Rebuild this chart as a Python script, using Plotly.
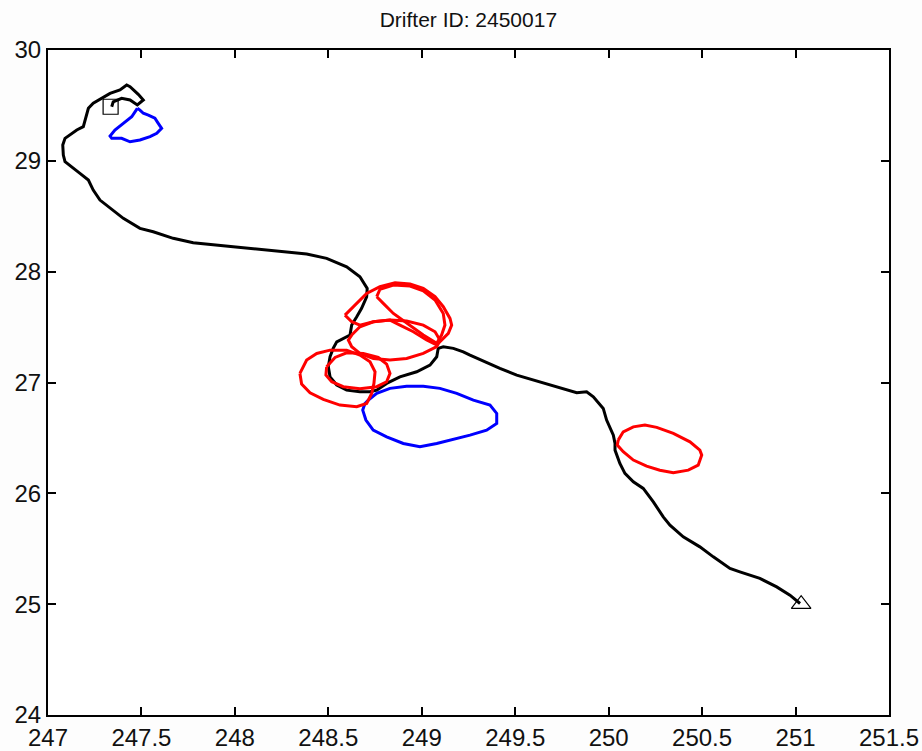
import plotly.graph_objects as go

# Drifter track (longitude east, latitude north), start -> end
track_lon = [247.341, 247.349, 247.394, 247.439, 247.478, 247.510, 247.483, 247.439, 247.421,
             247.385, 247.332, 247.287, 247.242, 247.216, 247.203, 247.189, 247.154, 247.127,
             247.091, 247.079, 247.082, 247.091, 247.127, 247.171, 247.216, 247.242, 247.278,
             247.332, 247.403, 247.492, 247.563, 247.670, 247.777, 247.991, 248.170, 248.384,
             248.491, 248.598, 248.669, 248.705, 248.708, 248.705, 248.678, 248.652, 248.625,
             248.616, 248.580, 248.545, 248.526, 248.509, 248.500, 248.509, 248.545, 248.598,
             248.669, 248.723, 248.759, 248.812, 248.883, 248.973, 249.044, 249.080, 249.088,
             249.115, 249.169, 249.222, 249.258, 249.418, 249.508, 249.597, 249.686, 249.775,
             249.829, 249.882, 249.918, 249.971, 249.989, 250.025, 250.034, 250.034, 250.060,
             250.087, 250.132, 250.185, 250.239, 250.292, 250.328, 250.399, 250.488, 250.560,
             250.649, 250.702, 250.809, 250.899, 250.970, 251.024]
track_lat = [29.488, 29.533, 29.564, 29.549, 29.504, 29.549, 29.600, 29.669, 29.684,
             29.639, 29.609, 29.564, 29.519, 29.474, 29.384, 29.308, 29.278, 29.248,
             29.203, 29.143, 29.052, 28.992, 28.947, 28.887, 28.827, 28.736, 28.646,
             28.571, 28.481, 28.391, 28.360, 28.301, 28.261, 28.225, 28.195, 28.159,
             28.120, 28.044, 27.954, 27.864, 27.849, 27.773, 27.669, 27.593, 27.518,
             27.428, 27.398, 27.367, 27.308, 27.232, 27.142, 27.051, 26.977, 26.931,
             26.916, 26.916, 26.931, 26.992, 27.051, 27.097, 27.157, 27.232, 27.308,
             27.322, 27.308, 27.277, 27.247, 27.127, 27.067, 27.022, 26.977, 26.931,
             26.907, 26.916, 26.871, 26.766, 26.661, 26.525, 26.450, 26.390, 26.270,
             26.180, 26.104, 26.044, 25.923, 25.788, 25.713, 25.607, 25.517, 25.427,
             25.322, 25.292, 25.232, 25.156, 25.081, 25.006]

# Start and end positions
start_lon, start_lat = [247.335], [29.488]
end_lon, end_lat = [251.03], [25.0]

# Anticyclonic eddy contours (red), one closed loop each
red_loops = [
    ([248.589, 248.705, 248.776, 248.857, 248.937, 249.008, 249.071, 249.115, 249.151, 249.160,
      249.142, 249.097, 249.080, 249.026, 248.955, 248.883, 248.830, 248.741, 248.669, 248.625, 248.589],
     [27.608, 27.804, 27.864, 27.900, 27.888, 27.849, 27.774, 27.684, 27.578, 27.518,
      27.443, 27.368, 27.338, 27.383, 27.458, 27.518, 27.563, 27.548, 27.518, 27.548, 27.608]),
    ([248.759, 248.776, 248.848, 248.937, 249.008, 249.071, 249.115, 249.124, 249.106, 249.080,
      249.008, 248.919, 248.848, 248.794, 248.759],
     [27.774, 27.840, 27.879, 27.870, 27.828, 27.744, 27.623, 27.518, 27.428, 27.353,
      27.428, 27.533, 27.623, 27.714, 27.774]),
    ([248.625, 248.669, 248.741, 248.830, 248.919, 249.008, 249.071, 249.097, 249.080, 249.008,
      248.919, 248.830, 248.741, 248.669, 248.625, 248.607, 248.625],
     [27.428, 27.503, 27.548, 27.563, 27.554, 27.518, 27.458, 27.383, 27.323, 27.262,
      27.217, 27.202, 27.217, 27.262, 27.323, 27.383, 27.428]),
    ([248.348, 248.384, 248.438, 248.509, 248.598, 248.669, 248.723, 248.750, 248.744, 248.732,
      248.705, 248.652, 248.562, 248.473, 248.402, 248.357, 248.348],
     [27.082, 27.202, 27.262, 27.292, 27.292, 27.247, 27.187, 27.097, 26.992, 26.901,
      26.811, 26.781, 26.796, 26.847, 26.907, 26.986, 27.082]),
    ([248.491, 248.536, 248.598, 248.687, 248.767, 248.812, 248.830, 248.812, 248.759, 248.669,
      248.580, 248.518, 248.487, 248.491],
     [27.142, 27.226, 27.268, 27.262, 27.226, 27.166, 27.082, 27.007, 26.962, 26.944,
      26.962, 27.007, 27.067, 27.142]),
    ([250.051, 250.078, 250.132, 250.194, 250.257, 250.346, 250.435, 250.488, 250.498, 250.479,
      250.426, 250.346, 250.274, 250.203, 250.132, 250.078, 250.046, 250.051],
     [26.480, 26.555, 26.600, 26.616, 26.595, 26.541, 26.465, 26.390, 26.345, 26.254,
      26.209, 26.185, 26.209, 26.245, 26.300, 26.375, 26.435, 26.480]),
]

# Cyclonic eddy contours (blue)
blue_loops = [
    ([247.478, 247.448, 247.403, 247.358, 247.332, 247.341, 247.394, 247.439, 247.492, 247.546,
      247.582, 247.608, 247.590, 247.572, 247.537, 247.510, 247.492, 247.478],
     [29.474, 29.398, 29.338, 29.278, 29.224, 29.203, 29.203, 29.172, 29.188, 29.218,
      29.248, 29.293, 29.338, 29.384, 29.413, 29.429, 29.458, 29.474]),
    ([248.714, 248.759, 248.830, 248.919, 249.008, 249.097, 249.187, 249.276, 249.365, 249.401,
      249.401, 249.347, 249.258, 249.151, 249.080, 248.990, 248.901, 248.812, 248.740, 248.701,
      248.684, 248.696, 248.714],
     [26.841, 26.902, 26.947, 26.967, 26.967, 26.947, 26.902, 26.841, 26.796, 26.721,
      26.631, 26.570, 26.525, 26.480, 26.450, 26.420, 26.450, 26.510, 26.570, 26.661,
      26.751, 26.811, 26.841]),
]


def joined(loops):
    xs, ys = [], []
    for lx, ly in loops:
        xs += lx + [None]
        ys += ly + [None]
    return xs, ys


fig = go.Figure()

rx, ry = joined(red_loops)
bx, by = joined(blue_loops)
fig.add_trace(go.Scatter(x=bx, y=by, mode="lines",
                         line=dict(color="#0000ff", width=3), hoverinfo="skip"))
fig.add_trace(go.Scatter(x=track_lon, y=track_lat, mode="lines",
                         line=dict(color="black", width=3), hoverinfo="skip"))
fig.add_trace(go.Scatter(x=rx, y=ry, mode="lines",
                         line=dict(color="#ff0000", width=3), hoverinfo="skip"))
fig.add_trace(go.Scatter(x=start_lon, y=start_lat, mode="markers",
                         marker=dict(symbol="square-open", size=15, color="black",
                                     line=dict(width=1.2))))
fig.add_trace(go.Scatter(x=end_lon, y=end_lat, mode="markers",
                         marker=dict(symbol="triangle-up-open", size=17, color="black",
                                     line=dict(width=1.2))))

axis_common = dict(
    showgrid=False, zeroline=False, automargin=False,
    showline=True, linecolor="black", linewidth=2, mirror="ticks",
    ticks="inside", ticklen=8, tickwidth=1.5, tickcolor="black",
    tickfont=dict(family="Liberation Sans, Arial, sans-serif", size=24, color="#111111"),
)

fig.update_layout(
    width=922, height=751,
    margin=dict(l=48, r=33, t=50, b=36),
    paper_bgcolor="#fdfdfd", plot_bgcolor="white",
    showlegend=False,
    title=dict(text="Drifter ID: 2450017", x=0.508, xanchor="center",
               y=1 - 20 / 751, yanchor="middle",
               font=dict(family="Liberation Sans, Arial, sans-serif", size=21, color="#111111")),
    xaxis=dict(range=[247, 251.5], dtick=0.5, tick0=247, **axis_common),
    yaxis=dict(range=[24, 30], dtick=1, tick0=24, **axis_common),
)

fig.write_html("out.html")
